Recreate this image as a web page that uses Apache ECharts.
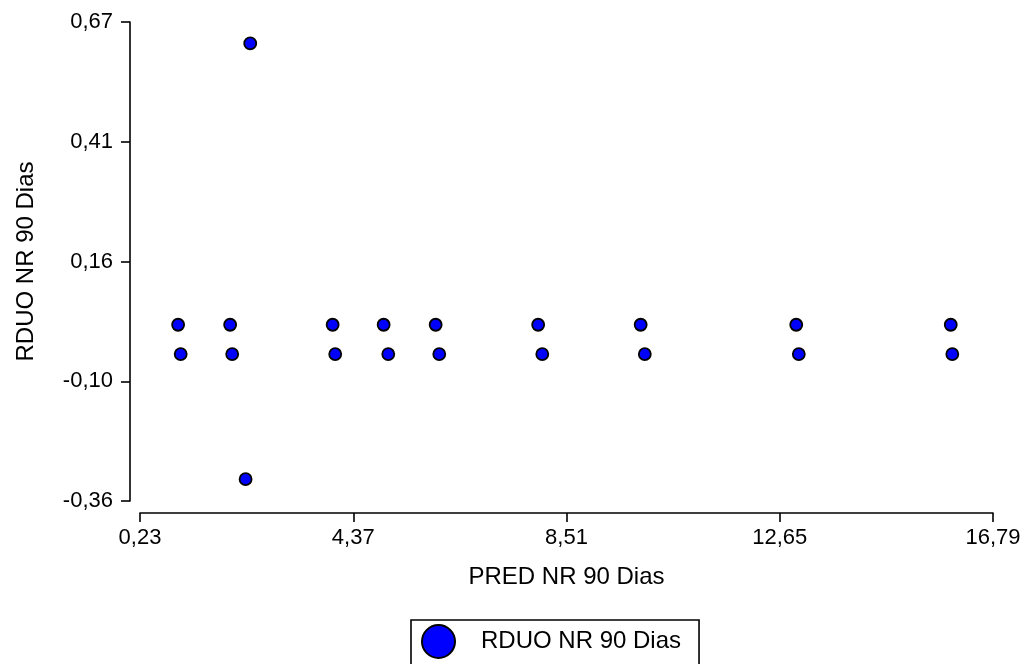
<!DOCTYPE html>
<html>
<head>
<meta charset="utf-8">
<title>RDUO NR 90 Dias</title>
<script src="https://cdn.jsdelivr.net/npm/echarts@6/dist/echarts.min.js"></script>
<style>
  html, body { margin: 0; padding: 0; background: #fff; }
  #chart { width: 1028px; height: 664px; }
</style>
</head>
<body>
<div id="chart"></div>
<script>
// Predicted values (x) and residuals (y), one entry per observation
const pred = [0.97, 1.02, 1.98, 2.02, 2.28, 2.37, 3.97, 4.02, 4.96, 5.05,
              5.97, 6.04, 7.96, 8.04, 9.95, 10.03, 12.97, 13.02, 15.97, 16.00];
const rduo = [0.019, -0.044, 0.019, -0.044, -0.313, 0.624, 0.019, -0.044, 0.019, -0.044,
              0.019, -0.044, 0.019, -0.044, 0.019, -0.044, 0.019, -0.044, 0.019, -0.044];

// Axis ticks and their printed labels
const xTicks = [0.23, 4.37, 8.51, 12.65, 16.79];
const xTickLabels = ['0,23', '4,37', '8,51', '12,65', '16,79'];
const yTicks = [-0.36, -0.1025, 0.155, 0.4125, 0.67];
const yTickLabels = ['-0,36', '-0,10', '0,16', '0,41', '0,67'];

const seriesName = 'RDUO NR 90 Dias';
const xName = 'PRED NR 90 Dias';
const yName = 'RDUO NR 90 Dias';

const FONT = "'Liberation Sans', Arial, sans-serif";

function labelFor(ticks, labels) {
  return function (v) {
    let best = 0;
    for (let i = 1; i < ticks.length; i++) {
      if (Math.abs(ticks[i] - v) < Math.abs(ticks[best] - v)) best = i;
    }
    return labels[best];
  };
}

const points = pred.map((x, i) => [x, rduo[i]]);

const chart = echarts.init(document.getElementById('chart'), null, { renderer: 'canvas' });
chart.setOption({
  animation: false,
  backgroundColor: '#ffffff',
  textStyle: { fontFamily: FONT, color: '#000' },
  grid: { left: 140, right: 35, top: 22, bottom: 163, containLabel: false },
  xAxis: {
    type: 'value',
    min: xTicks[0],
    max: xTicks[xTicks.length - 1],
    offset: 12,
    name: xName,
    nameLocation: 'middle',
    nameGap: 52,
    nameTextStyle: { fontFamily: FONT, fontSize: 24, color: '#000' },
    axisLine: { show: true, onZero: false, lineStyle: { color: '#000', width: 1.6 } },
    axisTick: { show: true, inside: false, length: 9, customValues: xTicks, lineStyle: { color: '#000', width: 1.6 } },
    axisLabel: {
      customValues: xTicks,
      margin: 14,
      fontFamily: FONT, fontSize: 22, color: '#000',
      formatter: labelFor(xTicks, xTickLabels)
    },
    splitLine: { show: false }
  },
  yAxis: {
    type: 'value',
    min: yTicks[0],
    max: yTicks[yTicks.length - 1],
    offset: 10,
    name: yName,
    nameLocation: 'middle',
    nameRotate: 90,
    nameGap: 92,
    nameTextStyle: { fontFamily: FONT, fontSize: 24, color: '#000' },
    axisLine: { show: true, onZero: false, lineStyle: { color: '#000', width: 1.6 } },
    axisTick: { show: true, inside: false, length: 9, customValues: yTicks, lineStyle: { color: '#000', width: 1.6 } },
    axisLabel: {
      customValues: yTicks,
      margin: 17,
      fontFamily: FONT, fontSize: 22, color: '#000',
      formatter: labelFor(yTicks, yTickLabels)
    },
    splitLine: { show: false }
  },
  legend: {
    data: [seriesName],
    left: 411,
    top: 620,
    orient: 'horizontal',
    icon: 'circle',
    itemWidth: 33,
    itemHeight: 33,
    padding: [4, 18, 24, 10],
    borderColor: '#000',
    borderWidth: 1.6,
    textStyle: { fontFamily: FONT, fontSize: 24, color: '#000', padding: [0, 0, 0, 21] }
  },
  series: [{
    name: seriesName,
    type: 'scatter',
    data: points,
    symbol: 'circle',
    symbolSize: 12,
    itemStyle: { color: '#0000ff', borderColor: '#000', borderWidth: 1.8, opacity: 1 }
  }]
});
</script>
</body>
</html>
